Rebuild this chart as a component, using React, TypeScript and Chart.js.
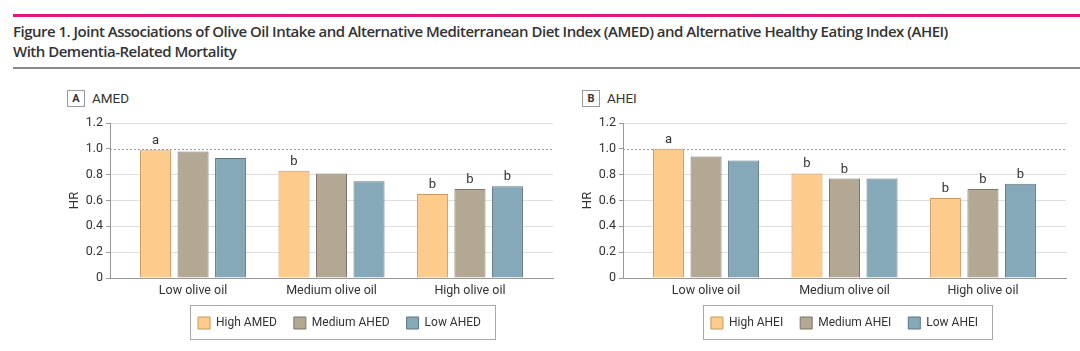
import React, { useEffect, useRef } from "react";
import { Chart, registerables } from "chart.js";

Chart.register(...registerables);

const categories = ["Low olive oil", "Medium olive oil", "High olive oil"];
const categoryPositions = [0, 1, 2];
const yTickValues = [0, 0.2, 0.4, 0.6, 0.8, 1.0, 1.2];
const referenceHR = 1.0;

const amedLabels = ["High AMED", "Medium AHED", "Low AHED"];
const amedHigh = [0.99, 0.83, 0.65];
const amedMedium = [0.98, 0.81, 0.69];
const amedLow = [0.93, 0.75, 0.71];
const amedHighMarks = ["a", "b", "b"];
const amedMediumMarks = ["", "", "b"];
const amedLowMarks = ["", "", "b"];

const aheiLabels = ["High AHEI", "Medium AHEI", "Low AHEI"];
const aheiHigh = [1.0, 0.81, 0.62];
const aheiMedium = [0.94, 0.77, 0.69];
const aheiLow = [0.91, 0.77, 0.73];
const aheiHighMarks = ["a", "b", "b"];
const aheiMediumMarks = ["", "b", "b"];
const aheiLowMarks = ["", "", "b"];

const fills = ["#FDCB8B", "#B3A894", "#86A9B9"];
const borders = ["#C9985E", "#7E7567", "#5B7682"];

const TITLE_FONT = '"Open Sans", sans-serif';
const FONT = 'Roboto, "Open Sans", sans-serif';
const TEXT = "#333333";

const decorPlugin = {
  id: "decor",
  afterLayout(chart: any, _args: any, opts: any) {
    const lg = chart.legend;
    if (lg && opts.legendShift) {
      lg.left += opts.legendShift;
      lg.right += opts.legendShift;
    }
  },
  beforeDatasetsDraw(chart: any) {
    const { ctx, chartArea } = chart;
    const y = Math.round(chart.scales.y.getPixelForValue(referenceHR)) + 0.5;
    ctx.save();
    ctx.strokeStyle = "#9a9a9a";
    ctx.lineWidth = 1;
    ctx.setLineDash([2, 2]);
    ctx.beginPath();
    ctx.moveTo(chartArea.left, y);
    ctx.lineTo(chartArea.right, y);
    ctx.stroke();
    ctx.restore();
  },
  afterDatasetsDraw(chart: any, _args: any, opts: any) {
    const { ctx } = chart;
    ctx.save();
    ctx.font = `13px ${FONT}`;
    ctx.fillStyle = TEXT;
    ctx.textAlign = "center";
    ctx.textBaseline = "alphabetic";
    chart.data.datasets.forEach((_ds: any, di: number) => {
      const meta = chart.getDatasetMeta(di);
      const marks = opts.marks[di];
      meta.data.forEach((bar: any, i: number) => {
        const m = marks[i];
        if (m) ctx.fillText(m, bar.x, bar.y - 6);
      });
    });
    ctx.restore();
  },
  afterDraw(chart: any) {
    const lg = chart.legend;
    if (!lg || !lg.legendHitBoxes || !lg.legendHitBoxes.length) return;
    const hb = lg.legendHitBoxes;
    const first = hb[0];
    const last = hb[hb.length - 1];
    const l = Math.round(first.left - 8) + 0.5;
    const r = Math.round(last.left + last.width + 14) + 0.5;
    const t = Math.round(first.top - 12) + 0.5;
    const b = Math.round(first.top + first.height + 10) + 0.5;
    const { ctx } = chart;
    ctx.save();
    ctx.strokeStyle = "#a8a8a8";
    ctx.lineWidth = 1;
    ctx.strokeRect(l, t, r - l, b - t);
    ctx.restore();
  },
};

type PanelProps = {
  names: string[];
  series: number[][];
  marks: string[][];
  width: number;
  height: number;
  axisWidth: number;
  titlePad: number;
  padRight: number;
  legendShift: number;
  left: number;
  top: number;
};

function Panel(p: PanelProps) {
  const ref = useRef<HTMLCanvasElement>(null);
  useEffect(() => {
    const chart = new Chart(ref.current as HTMLCanvasElement, {
      type: "bar",
      data: {
        datasets: p.series.map((vals, i) => ({
          label: p.names[i],
          data: vals.map((v, j) => ({ x: categoryPositions[j], y: v })),
          backgroundColor: fills[i],
          borderColor: borders[i],
          borderWidth: 1,
          barPercentage: 0.827,
          categoryPercentage: 0.813,
        })),
      } as any,
      options: {
        animation: false,
        responsive: false,
        events: [],
        layout: { padding: { top: 13, left: 0, right: p.padRight, bottom: 12 } },
        scales: {
          x: {
            type: "linear",
            min: -0.6,
            max: 2.6,
            offset: false,
            afterBuildTicks: (scale: any) => {
              scale.ticks = categoryPositions.map((v) => ({ value: v }));
            },
            afterFit: (scale: any) => {
              scale.height = 22;
            },
            ticks: {
              autoSkip: false,
              maxRotation: 0,
              padding: 5,
              color: TEXT,
              font: { family: FONT, size: 12.5 },
              callback: (v: any) => categories[Math.round(Number(v))] ?? "",
            },
            grid: { display: true, drawOnChartArea: false, drawTicks: false, offset: false },
            border: { display: true, color: "#999999", width: 1 },
          },
          y: {
            type: "linear",
            min: 0,
            max: 1.2,
            afterBuildTicks: (scale: any) => {
              scale.ticks = yTickValues.map((v) => ({ value: v }));
            },
            afterFit: (scale: any) => {
              scale.width = p.axisWidth;
            },
            ticks: {
              padding: 3,
              color: TEXT,
              font: { family: FONT, size: 12.5 },
              callback: (v: any) => (Number(v) === 0 ? "0" : Number(v).toFixed(1)),
            },
            grid: {
              color: (ctx: any) =>
                ctx.tick && Math.abs(ctx.tick.value - referenceHR) < 1e-6 ? "rgba(0,0,0,0)" : "#dedede",
              lineWidth: 1,
              tickLength: 4,
              tickColor: "#999999",
              drawTicks: true,
            },
            border: { display: true, color: "#999999", width: 1 },
            title: {
              display: true,
              text: "HR",
              color: TEXT,
              font: { family: FONT, size: 13 },
              padding: { top: p.titlePad, bottom: 0 },
            },
          },
        },
        plugins: {
          tooltip: { enabled: false },
          legend: {
            display: true,
            position: "bottom",
            fullSize: false,
            labels: {
              boxWidth: 12,
              boxHeight: 12,
              padding: 17,
              color: TEXT,
              font: { family: FONT, size: 12 },
            },
          },
          decor: { marks: p.marks, legendShift: p.legendShift },
        } as any,
      } as any,
      plugins: [decorPlugin],
    });
    return () => chart.destroy();
  }, []);
  return (
    <canvas
      ref={ref}
      width={p.width}
      height={p.height}
      style={{ position: "absolute", left: p.left, top: p.top, width: p.width, height: p.height }}
    />
  );
}

function PanelHeader({ letter, text, left }: { letter: string; text: string; left: number }) {
  return (
    <div style={{ position: "absolute", left, top: 89, height: 18, display: "flex", alignItems: "center" }}>
      <div
        style={{
          width: 18,
          height: 17,
          border: "1px solid #999",
          boxSizing: "border-box",
          fontSize: 11,
          fontWeight: 700,
          color: TEXT,
          fontFamily: FONT,
          display: "flex",
          alignItems: "center",
          justifyContent: "center",
        }}
      >
        {letter}
      </div>
      <div style={{ marginLeft: 7, fontSize: 13.5, color: TEXT, fontFamily: FONT }}>{text}</div>
    </div>
  );
}

export default function App() {
  return (
    <div
      style={{
        position: "absolute",
        left: 0,
        top: 0,
        width: 1080,
        height: 351,
        background: "#ffffff",
        overflow: "hidden",
        fontFamily: TITLE_FONT,
      }}
    >
      <div style={{ position: "absolute", left: 13, top: 14, right: 0, height: 3, background: "#E2187A" }} />
      <div
        style={{
          position: "absolute",
          left: 13,
          top: 21,
          fontSize: 15,
          fontWeight: 600,
          lineHeight: "20px",
          letterSpacing: "-0.5px",
          color: TEXT,
          whiteSpace: "nowrap",
        }}
      >
        Figure 1. Joint Associations of Olive Oil Intake and Alternative Mediterranean Diet Index (AMED) and
        Alternative Healthy Eating Index (AHEI)
        <br />
        With Dementia-Related Mortality
      </div>
      <div style={{ position: "absolute", left: 13, top: 67, right: 0, height: 2, background: "#8a8a8a" }} />
      <PanelHeader letter="A" text="AMED" left={67} />
      <PanelHeader letter="B" text="AHEI" left={582} />
      <Panel
        names={amedLabels}
        series={[amedHigh, amedMedium, amedLow]}
        marks={[amedHighMarks, amedMediumMarks, amedLowMarks]}
        width={560}
        height={241}
        axisWidth={110}
        titlePad={67}
        padRight={7}
        legendShift={8}
        left={0}
        top={110}
      />
      <Panel
        names={aheiLabels}
        series={[aheiHigh, aheiMedium, aheiLow]}
        marks={[aheiHighMarks, aheiMediumMarks, aheiLowMarks]}
        width={520}
        height={241}
        axisWidth={63}
        titlePad={20}
        padRight={14}
        legendShift={0}
        left={560}
        top={110}
      />
    </div>
  );
}
